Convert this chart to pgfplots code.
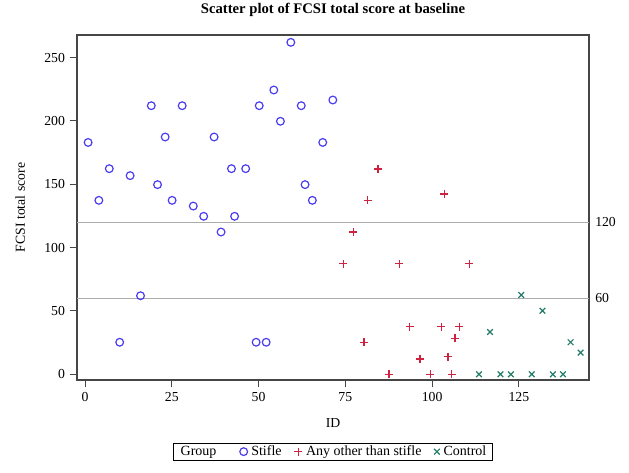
\documentclass[border=0pt]{standalone}
\usepackage{pgfplots}
\pgfplotsset{compat=1.18}
\usepackage{fontspec}
\setmainfont{Liberation Serif}
\definecolor{cstifle}{RGB}{75,60,240}
\definecolor{cother}{RGB}{205,35,65}
\definecolor{ccontrol}{RGB}{35,125,105}
\definecolor{cframe}{RGB}{70,70,70}
\begin{document}
\begin{tikzpicture}
\begin{axis}[
  scale only axis,
  width=384pt, height=258.75pt,
  xmin=-2.3, xmax=145.2, ymin=-4.5, ymax=267.8,
  font=\fontsize{10.3}{12}\selectfont,
  /pgf/number format/assume math mode=true,
  axis line style={cframe, line width=0.8pt},
  xtick={0,25,50,75,100,125},
  ytick={0,50,100,150,200,250},
  xtick pos=left, ytick pos=left,
  tick align=outside,
  major tick length=5.5pt,
  tick style={cframe, line width=0.7pt},
  title={Scatter plot of FCSI total score at baseline},
  title style={at={(axis description cs:0.5,1.049)}, anchor=center, yshift=0pt, font=\fontsize{11}{13}\selectfont\bfseries},
  xlabel={ID},
  xlabel style={at={(axis description cs:0.5,-0.125)}, anchor=center},
  ylabel={FCSI total score},
  ylabel style={at={(axis description cs:-0.111,0.5)}, anchor=center},
  legend style={at={(0.5,-0.1816)}, anchor=north, draw=black, line width=0.6pt,
    inner xsep=2.5pt, inner ysep=0pt, font=\fontsize{10.5}{12}\selectfont,
    /tikz/every even column/.append style={column sep=7.5pt},
    /tikz/every odd column/.append style={column sep=0.8pt}},
  legend columns=-1,
  legend image code/.code={\draw[#1] plot coordinates {(0cm,0cm)};},
  clip=false,
]
\addlegendimage{empty legend}
\addlegendentry{Group\rule{8pt}{0pt}}

\addplot[only marks, mark=o, mark size=2.9pt, line width=0.9pt, color=cstifle] coordinates {
(0.9,183) (4.0,137.3) (7.0,162.3) (10.0,25.3) (13.0,156.8) (16.0,62) (19.1,212)
(20.9,149.7) (23.1,187.3) (25.1,137.3) (28.0,212) (31.2,132.8) (34.2,124.7)
(37.2,187.3) (39.2,112.3) (42.2,162.3) (43.1,124.7) (46.3,162.3) (49.3,25.3)
(50.2,212) (52.2,25.3) (54.4,224.4) (56.3,199.7) (59.3,262) (62.3,212)
(63.4,149.7) (65.5,137.3) (68.5,183) (71.4,216.5)
};
\addlegendentry{Stifle}

\addplot[only marks, mark=+, mark size=3pt, line width=0.9pt, color=cother] coordinates {
(74.4,87.3) (77.3,112.3) (80.4,25.3) (81.5,137.3) (84.4,162) (87.6,0) (90.5,87.3)
(93.5,37.6) (96.5,12.1) (99.5,0) (102.6,37.6) (103.5,142.3) (104.6,13.9)
(105.6,0) (106.6,28.4) (107.8,37.6) (110.7,87.3)
};
\addlegendentry{Any other than stifle}

\addplot[only marks, mark=x, mark size=3pt, line width=0.9pt, color=ccontrol] coordinates {
(113.5,0) (116.7,33.4) (119.7,0) (122.7,0) (125.7,62.6) (128.7,0) (131.8,50.2)
(134.8,0) (137.7,0) (139.9,25.3) (142.8,17.1)
};
\addlegendentry{Control}

\addplot[forget plot, color=gray!65, line width=1pt] coordinates {(-2.3,120) (145.2,120)};
\addplot[forget plot, color=gray!65, line width=1pt] coordinates {(-2.3,60) (145.2,60)};

\node[anchor=west, inner sep=0pt, xshift=4.5pt] at (axis cs:145.2,120) {120};
\node[anchor=west, inner sep=0pt, xshift=4.5pt] at (axis cs:145.2,60) {60};
\end{axis}
\pgfresetboundingbox
\path (-57.75pt,-69pt) rectangle (414pt,285pt);
\end{tikzpicture}
\end{document}
